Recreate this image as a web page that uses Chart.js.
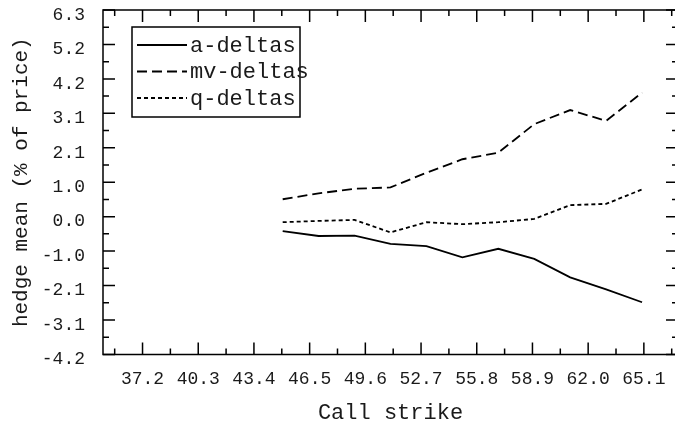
<!DOCTYPE html>
<html>
<head>
<meta charset="utf-8">
<script src="https://cdn.jsdelivr.net/npm/chart.js@4.4.1/dist/chart.umd.min.js"></script>
<style>
  html, body { margin: 0; padding: 0; overflow: hidden; background: #fff; }
</style>
</head>
<body>
<canvas id="myChart" width="680" height="430"></canvas>
<script>
// Call strikes and the mean hedge result (% of price) for each delta method
const strikes = [45, 47, 49, 51, 53, 55, 57, 59, 61, 63, 65];
const aDeltas = [-0.44, -0.59, -0.58, -0.83, -0.90, -1.24, -0.98, -1.29, -1.85, -2.22, -2.61];
const mvDeltas = [0.53, 0.71, 0.85, 0.89, 1.34, 1.75, 1.95, 2.82, 3.25, 2.92, 3.78];
const qDeltas = [-0.17, -0.13, -0.10, -0.48, -0.17, -0.23, -0.17, -0.07, 0.35, 0.39, 0.83];

// Major tick values and the text printed under/next to them
const xTickValues = [37.2, 40.3, 43.4, 46.5, 49.6, 52.7, 55.8, 58.9, 62.0, 65.1];
const xTickLabels = ['37.2', '40.3', '43.4', '46.5', '49.6', '52.7', '55.8', '58.9', '62.0', '65.1'];
const yTickValues = [-4.2, -3.15, -2.1, -1.05, 0, 1.05, 2.1, 3.15, 4.2, 5.25, 6.3];
const yTickLabels = ['-4.2', '-3.1', '-2.1', '-1.0', '0.0', '1.0', '2.1', '3.1', '4.2', '5.2', '6.3'];

const mono = '"Liberation Mono", "DejaVu Sans Mono", monospace';
const ink = '#1a1a1a';

function points(values) {
    return strikes.map((s, i) => ({ x: s, y: values[i] }));
}

const data = {
    datasets: [
        { label: 'a-deltas', data: points(aDeltas), borderDash: [] },
        { label: 'mv-deltas', data: points(mvDeltas), borderDash: [10, 5] },
        { label: 'q-deltas', data: points(qDeltas), borderDash: [4, 3] }
    ].map(ds => Object.assign(ds, {
        borderColor: '#000',
        borderWidth: 1.8,
        pointRadius: 0,
        tension: 0,
        fill: false
    }))
};

// Frame on three sides plus inward major/minor tick marks on all four sides
const frameTicks = {
    id: 'frameTicks',
    afterDraw(chart) {
        const { ctx, chartArea: a, scales: { x, y } } = chart;
        const major = 12, minor = 6;
        ctx.save();
        ctx.strokeStyle = '#000';
        ctx.lineWidth = 1.5;
        ctx.setLineDash([]);
        ctx.beginPath();
        ctx.moveTo(a.right, a.top);
        ctx.lineTo(a.left, a.top);
        ctx.lineTo(a.left, a.bottom);
        ctx.lineTo(a.right, a.bottom);
        ctx.stroke();

        const xStep = xTickValues[1] - xTickValues[0];
        const yStep = yTickValues[1] - yTickValues[0];
        ctx.beginPath();
        const xMark = (v, len) => {
            const px = x.getPixelForValue(v);
            ctx.moveTo(px, a.bottom); ctx.lineTo(px, a.bottom - len);
            ctx.moveTo(px, a.top); ctx.lineTo(px, a.top + len);
        };
        const yMark = (v, len) => {
            const py = y.getPixelForValue(v);
            ctx.moveTo(a.left, py); ctx.lineTo(a.left + len, py);
            ctx.moveTo(a.right, py); ctx.lineTo(a.right - len, py);
        };
        xTickValues.forEach(v => xMark(v, major));
        for (let v = xTickValues[0] - xStep / 2; v <= x.max; v += xStep) {
            if (v >= x.min) xMark(v, minor);
        }
        yTickValues.forEach(v => yMark(v, major));
        for (let v = yTickValues[0] + yStep / 2; v < y.max; v += yStep) {
            yMark(v, minor);
        }
        ctx.stroke();
        ctx.restore();
    }
};

// Boxed legend in the upper left corner of the plot
const boxLegend = {
    id: 'boxLegend',
    afterDraw(chart) {
        const { ctx, chartArea: a } = chart;
        const left = a.left + 29, top = a.top + 17;
        const w = 168, h = 90, rowH = 26.5;
        ctx.save();
        ctx.fillStyle = '#fff';
        ctx.fillRect(left, top, w, h);
        ctx.strokeStyle = '#000';
        ctx.lineWidth = 1.5;
        ctx.strokeRect(left, top, w, h);
        ctx.font = '22px ' + mono;
        ctx.textBaseline = 'middle';
        ctx.fillStyle = ink;
        chart.data.datasets.forEach((ds, i) => {
            const cy = top + 18 + i * rowH;
            ctx.beginPath();
            ctx.lineWidth = 1.8;
            ctx.setLineDash(ds.borderDash);
            ctx.moveTo(left + 5, cy);
            ctx.lineTo(left + 55, cy);
            ctx.stroke();
            ctx.fillText(ds.label, left + 58, cy + 1);
        });
        ctx.restore();
    }
};

const config = {
    type: 'line',
    data: data,
    options: {
        responsive: false,
        animation: false,
        layout: { padding: { top: 10, right: 2, left: 0, bottom: 0 } },
        plugins: {
            legend: { display: false },
            tooltip: { enabled: false }
        },
        scales: {
            x: {
                type: 'linear',
                min: 35,
                max: 67,
                grid: { display: false, drawTicks: false },
                border: { display: false },
                afterBuildTicks: s => { s.ticks = xTickValues.map(v => ({ value: v })); },
                afterFit: s => { s.height = 75.6; s.paddingLeft = 0; s.paddingRight = 0; },
                ticks: {
                    autoSkip: false,
                    maxRotation: 0,
                    padding: 16,
                    color: ink,
                    font: { family: mono, size: 18, lineHeight: 1 },
                    callback: (v, i) => xTickLabels[i]
                },
                title: {
                    display: true,
                    text: 'Call strike',
                    color: ink,
                    font: { family: mono, size: 22 },
                    padding: { top: 0, bottom: 4 }
                }
            },
            y: {
                type: 'linear',
                min: -4.2,
                max: 6.3,
                grid: { display: false, drawTicks: false },
                border: { display: false },
                afterBuildTicks: s => { s.ticks = yTickValues.map(v => ({ value: v })); },
                afterFit: s => { s.width = 103; s.paddingTop = 0; s.paddingBottom = 0; },
                ticks: {
                    padding: 18,
                    labelOffset: 5,
                    color: ink,
                    font: { family: mono, size: 18, lineHeight: 1 },
                    callback: (v, i) => yTickLabels[i]
                },
                title: {
                    display: true,
                    text: 'hedge mean (% of price)',
                    color: ink,
                    font: { family: mono, size: 21 },
                    padding: { top: 9, bottom: 0 }
                }
            }
        }
    },
    plugins: [frameTicks, boxLegend]
};

const myChart = new Chart(document.getElementById('myChart'), config);
</script>
</body>
</html>
